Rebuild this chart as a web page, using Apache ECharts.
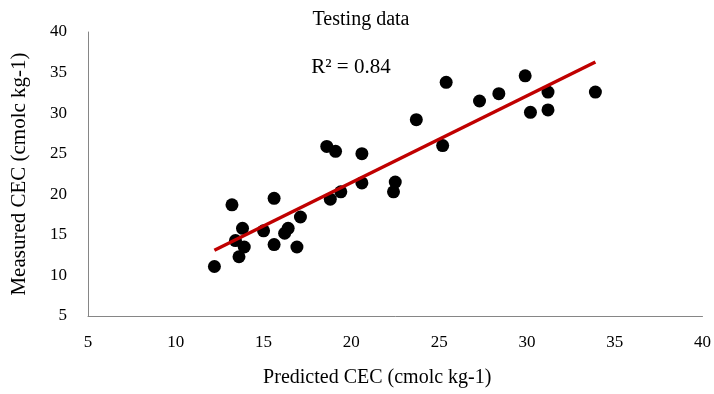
<!DOCTYPE html>
<html>
<head>
<meta charset="utf-8">
<script src="https://cdn.jsdelivr.net/npm/echarts@6/dist/echarts.min.js"></script>
<style>
  html, body { margin: 0; padding: 0; background: #fff; }
  #main { width: 714px; height: 394px; }
</style>
</head>
<body>
<div id="main"></div>
<script>
// predicted vs measured CEC (testing set)
var predicted = [12.2, 13.2, 15.6, 13.8, 13.4, 13.9, 13.6, 15.0, 15.6, 16.4, 16.2, 16.9, 17.1,
  18.6, 19.1, 20.6, 20.6, 19.4, 18.8, 22.5, 22.4, 25.2, 25.4, 23.7,
  27.3, 28.4, 29.9, 31.2, 30.2, 31.2, 33.9];
var measured = [11.1, 18.7, 19.5, 15.8, 14.3, 13.5, 12.3, 15.5, 13.8, 15.8, 15.2, 13.5, 17.2,
  25.9, 25.3, 25.0, 21.4, 20.3, 19.4, 21.5, 20.3, 26.0, 33.8, 29.2,
  31.5, 32.4, 34.6, 32.6, 30.1, 30.4, 32.6];
// trend line end points
var fitX = [12.2, 33.9];
var fitY = [13.1, 36.3];
var ticks = [5, 10, 15, 20, 25, 30, 35, 40];

var points = [];
for (var i = 0; i < predicted.length; i++) {
  points.push([predicted[i], measured[i]]);
}
var fitLine = [[fitX[0], fitY[0]], [fitX[1], fitY[1]]];

var font = 'Liberation Serif';
var myChart = echarts.init(document.getElementById('main'));
var option = {
  backgroundColor: '#fff',
  animation: false,
  title: [
    {
      text: 'Testing data',
      left: 356, top: 5, textAlign: 'center',
      textStyle: { fontFamily: font, fontSize: 20, fontWeight: 'normal', color: '#000' }
    },
    {
      text: 'R² = 0.84',
      left: 346, top: 52, textAlign: 'center',
      textStyle: { fontFamily: font, fontSize: 21, fontWeight: 'normal', color: '#000' }
    }
  ],
  grid: { left: 88, right: 8, top: 32, bottom: 78 },
  xAxis: {
    type: 'value',
    min: ticks[0], max: ticks[ticks.length - 1], interval: 5,
    name: 'Predicted CEC (cmolc kg-1)',
    nameLocation: 'middle', nameGap: 52,
    nameTextStyle: { fontFamily: font, fontSize: 20, color: '#000', padding: [0, 36, 0, 0] },
    axisLine: { lineStyle: { color: '#868686', width: 1 } },
    axisTick: { show: false },
    splitLine: { show: false },
    axisLabel: { fontFamily: font, fontSize: 17, color: '#000', margin: 18 }
  },
  yAxis: {
    type: 'value',
    min: ticks[0], max: ticks[ticks.length - 1], interval: 5,
    name: 'Measured CEC (cmolc kg-1)',
    nameLocation: 'middle', nameGap: 58,
    nameTextStyle: { fontFamily: font, fontSize: 21, color: '#000' },
    axisLine: { show: true, lineStyle: { color: '#868686', width: 1 } },
    axisTick: { show: false },
    splitLine: { show: false },
    axisLabel: { fontFamily: font, fontSize: 17, color: '#000', margin: 21 }
  },
  series: [
    {
      type: 'scatter',
      data: points,
      symbol: 'circle',
      symbolSize: 13,
      itemStyle: { color: '#000', opacity: 1 },
      z: 2
    },
    {
      type: 'line',
      data: fitLine,
      showSymbol: false,
      lineStyle: { color: '#C00000', width: 3.5 },
      z: 3
    }
  ]
};
myChart.setOption(option);
</script>
</body>
</html>
